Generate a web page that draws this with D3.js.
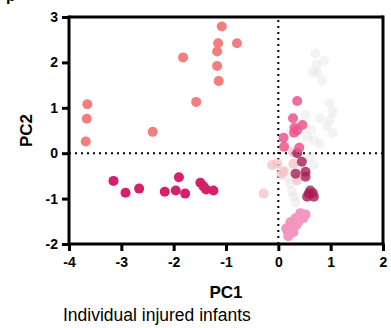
<!DOCTYPE html>
<html>
<head>
<meta charset="utf-8">
<script src="https://cdn.jsdelivr.net/npm/d3@7"></script>
<style>
  body { margin: 0; background: #fff; }
  text { font-family: "Liberation Sans", Arial, sans-serif; }
</style>
</head>
<body>
<script>
var w = 391;
var h = 328;

// Tick values
var xTicks = [-4, -3, -2, -1, 0, 1, 2];
var yTicks = [-2, -1, 0, 1, 2, 3];

// PCA scores per group of injured infants
var salmonX = [-3.65, -3.66, -3.68, -2.40, -1.82, -1.57, -1.08, -1.15, -1.17, -0.79, -1.17, -1.14];
var salmonY = [1.08, 0.76, 0.26, 0.47, 2.11, 1.13, 2.79, 2.42, 2.24, 2.42, 1.92, 1.59];

var magentaX = [-3.15, -2.92, -2.66, -2.17, -1.96, -1.90, -1.78, -1.49, -1.43, -1.38, -1.24];
var magentaY = [-0.61, -0.87, -0.78, -0.85, -0.82, -0.53, -0.89, -0.65, -0.73, -0.80, -0.82];

var greyX = [0.71, 0.87, 0.73, 0.66, 0.75, 0.84, 0.98, 1.04, 0.99, 0.80, 0.52, 0.93, 1.04, 0.63, 0.55, 0.80, 0.23, 0.42, 0.68, 0.61, 0.68, 0.42, 0.04, 0.17, 0.23, 0.26, 0.33, 0.20, 0.30];
var greyY = [2.20, 2.04, 1.94, 1.79, 1.76, 1.59, 1.10, 0.91, 0.73, 0.77, 0.84, 0.60, 0.44, 0.51, 0.36, 0.21, 0.47, 0.14, 0.28, -0.08, -0.26, -0.30, -0.49, -0.38, -0.67, -0.85, -1.08, -0.55, -0.95];

var blushX = [-0.12, -0.02, -0.28, 0.07, 0.36, 0.29, 0.10, 0.28];
var blushY = [-0.26, -0.23, -0.89, -0.45, -0.60, -0.23, -0.40, 0.02];

var hotPinkX = [0.36, 0.28, 0.46, 0.31, 0.36, 0.30, 0.10, 0.11, 0.40];
var hotPinkY = [1.15, 0.77, 0.62, 0.56, 0.50, 0.45, 0.34, 0.14, 0.12];

var maroonX = [0.36, 0.45, 0.33, 0.52, 0.52, 0.58, 0.68, 0.55, 0.61, 0.66];
var maroonY = [0.00, -0.19, -0.45, -0.41, -0.52, -0.89, -0.96, -0.96, -0.82, -0.88];

var roseX = [0.19, 0.17, 0.27, 0.38, 0.48, 0.52, 0.42, 0.33, 0.23, 0.15, 0.34, 0.29];
var roseY = [-1.83, -1.70, -1.61, -1.52, -1.43, -1.35, -1.32, -1.43, -1.52, -1.66, -1.59, -1.74];

// Plot area
var plotLeft = 69, plotRight = 383, plotTop = 17, plotBottom = 244;

var xScale = d3.scaleLinear()
  .domain([-4, 2])
  .range([plotLeft, plotRight]);

var yScale = d3.scaleLinear()
  .domain([-2, 3])
  .range([plotBottom, plotTop]);

var svg = d3.select("body")
  .append("svg")
  .attr("width", w)
  .attr("height", h);

// Panel letter, mostly cut off at the top edge
svg.append("text")
  .attr("x", 6)
  .attr("y", 1)
  .style("font-size", "16px")
  .style("font-weight", "bold")
  .text("p");

// Frame top and right
svg.append("line")
  .attr("x1", plotLeft).attr("x2", plotRight)
  .attr("y1", plotTop).attr("y2", plotTop)
  .attr("stroke", "black").attr("stroke-width", 3);
svg.append("line")
  .attr("x1", plotRight).attr("x2", plotRight)
  .attr("y1", plotTop - 1.5).attr("y2", plotBottom)
  .attr("stroke", "black").attr("stroke-width", 3);

// Dotted zero lines
svg.append("line")
  .attr("x1", plotLeft).attr("x2", plotRight)
  .attr("y1", yScale(0)).attr("y2", yScale(0))
  .attr("stroke", "black").attr("stroke-width", 2)
  .attr("stroke-dasharray", "2,4");
svg.append("line")
  .attr("x1", xScale(0)).attr("x2", xScale(0))
  .attr("y1", plotBottom).attr("y2", plotTop)
  .attr("stroke", "black").attr("stroke-width", 2)
  .attr("stroke-dasharray", "2,4");

// Draw one group of points
function drawGroup(xs, ys, color, opacity) {
  svg.append("g")
    .selectAll("circle")
    .data(xs)
    .enter()
    .append("circle")
    .attr("cx", function(d) { return xScale(d); })
    .attr("cy", function(d, i) { return yScale(ys[i]); })
    .attr("r", 5)
    .attr("fill", color)
    .attr("fill-opacity", opacity);
}

drawGroup(greyX, greyY, "#e2e2e2", 0.4);
drawGroup(salmonX, salmonY, "#f27e7e", 1);
drawGroup(magentaX, magentaY, "#d6206b", 1);
drawGroup(blushX, blushY, "#f4c4cb", 0.8);
drawGroup(roseX, roseY, "#f397bf", 1);
drawGroup(maroonX, maroonY, "#a81d56", 0.8);
drawGroup(hotPinkX, hotPinkY, "#eb5590", 0.85);

// X-axis
var xAxis = d3.axisBottom(xScale)
  .tickValues(xTicks)
  .tickSize(7)
  .tickPadding(6)
  .tickFormat(d3.format("d"));

var gx = svg.append("g")
  .attr("transform", "translate(0," + plotBottom + ")")
  .call(xAxis);

// Y-axis
var yAxis = d3.axisLeft(yScale)
  .tickValues(yTicks)
  .tickSize(7)
  .tickPadding(4)
  .tickFormat(d3.format("d"));

var gy = svg.append("g")
  .attr("transform", "translate(" + plotLeft + ",0)")
  .call(yAxis);

[gx, gy].forEach(function(g) {
  g.select(".domain").remove();
  g.selectAll(".tick line").attr("stroke-width", 3);
  g.selectAll(".tick text")
    .style("font-size", "14px")
    .style("font-weight", "bold")
    .attr("fill", "black")
    .text(function(d) { return d < 0 ? "-" + Math.abs(d) : d; });
});

// Axis lines drawn solid on top
svg.append("line")
  .attr("x1", plotLeft).attr("x2", plotRight + 1.5)
  .attr("y1", plotBottom).attr("y2", plotBottom)
  .attr("stroke", "black").attr("stroke-width", 3);
svg.append("line")
  .attr("x1", plotLeft).attr("x2", plotLeft)
  .attr("y1", plotTop - 1.5).attr("y2", plotBottom + 1.5)
  .attr("stroke", "black").attr("stroke-width", 3);

// Axis titles
svg.append("text")
  .attr("x", (plotLeft + plotRight) / 2)
  .attr("y", 298)
  .attr("text-anchor", "middle")
  .style("font-size", "17px")
  .style("font-weight", "bold")
  .text("PC1");

svg.append("text")
  .attr("transform", "rotate(-90)")
  .attr("x", -(plotTop + plotBottom) / 2)
  .attr("y", 32)
  .attr("text-anchor", "middle")
  .style("font-size", "17px")
  .style("font-weight", "bold")
  .text("PC2");

// Caption
svg.append("text")
  .attr("x", 63)
  .attr("y", 321)
  .style("font-size", "17.5px")
  .text("Individual injured infants");
</script>
</body>
</html>
